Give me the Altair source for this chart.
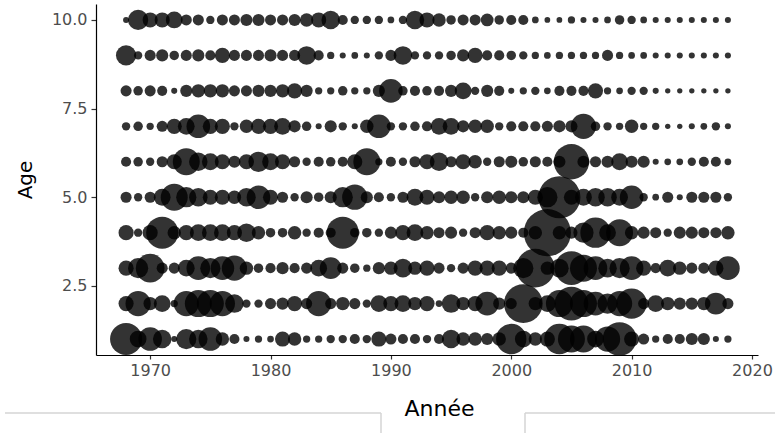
import altair as alt
import pandas as pd

years = list(range(1968, 2019))

# Abundance index per age class (one value per year, 1968..2018)
age10 = [9,100,56,56,69,30,30,17,30,30,36,36,30,30,36,44,56,84,25,17,17,17,11,17,84,56,
         44,22,30,30,40,22,25,25,11,8,8,13,9,9,11,22,17,11,9,9,9,9,9,9,9]
age9 = [100,17,30,36,22,30,36,25,56,30,30,30,36,30,30,84,25,13,9,11,9,17,30,84,17,17,
        17,22,36,56,25,25,22,17,13,11,13,13,13,13,30,13,11,11,9,9,9,9,9,9,9]
age8 = [30,22,30,25,9,36,44,44,44,30,30,36,36,44,56,36,13,13,22,13,13,36,136,22,25,22,
        25,36,69,17,36,25,9,13,17,11,25,25,25,56,13,11,17,17,9,7,7,7,7,7,7]
age7 = [17,22,13,30,56,69,136,56,56,17,44,56,56,69,36,22,9,36,17,9,44,136,17,17,22,25,
        69,69,36,44,44,17,25,25,25,30,36,36,156,22,17,13,44,13,13,7,7,9,11,17,9]
age6 = [25,22,17,30,56,178,84,69,56,36,56,100,69,56,30,17,25,22,25,56,178,13,25,17,30,56,
        84,30,56,44,17,30,36,22,30,25,36,306,36,30,36,69,36,36,9,11,11,17,25,25,11]
age5 = [30,17,30,69,178,100,84,56,56,44,84,136,56,30,17,36,22,36,100,156,36,25,17,30,69,56,
        36,44,44,17,36,44,36,36,56,100,434,56,69,84,84,69,136,17,11,30,9,30,30,30,17]
age4 = [56,17,56,251,44,56,69,69,69,56,84,44,22,22,44,17,25,25,251,22,22,17,36,56,69,44,
        30,36,17,30,56,44,36,25,44,544,44,36,100,225,69,178,44,36,30,17,36,36,30,30,44]
age3 = [56,100,201,30,30,69,136,100,136,156,44,22,25,36,25,30,69,117,30,22,13,36,44,84,44,56,
        30,17,30,56,56,56,30,100,367,44,84,278,178,136,84,100,136,56,25,69,44,30,30,56,136]
age2 = [56,156,44,69,13,156,178,178,156,84,17,17,30,36,56,30,156,30,44,30,17,69,56,69,44,56,
        11,84,44,56,136,36,30,367,44,69,178,278,178,136,100,156,225,30,69,44,36,36,44,117,30]
age1 = [251,69,136,84,9,100,84,136,44,25,9,13,11,56,44,13,13,17,17,25,17,56,30,25,25,17,
        25,84,44,44,36,44,225,69,44,56,225,178,178,69,156,278,56,30,13,25,25,36,36,9,13]

ages = {1: age1, 2: age2, 3: age3, 4: age4, 5: age5,
        6: age6, 7: age7, 8: age8, 9: age9, 10: age10}

x_ticks = [1970, 1980, 1990, 2000, 2010, 2020]
y_ticks = [2.5, 5.0, 7.5, 10.0]

rows = []
for a, vals in ages.items():
    for yr, v in zip(years, vals):
        rows.append({"Annee": yr, "Age": a, "Abondance": v})
df = pd.DataFrame(rows)

FONT = "DejaVu Sans"

points = alt.Chart(df).mark_circle(color="black", opacity=0.8, stroke=None).encode(
    x=alt.X("Annee:Q",
            scale=alt.Scale(domain=[1965.5, 2020.5], nice=False, zero=False),
            axis=alt.Axis(values=x_ticks, format="d", title="Année",
                          grid=False, tickSize=4, labelPadding=3,
                          titlePadding=20, titleFontSize=22,
                          titleX=343, titleAlign="center")),
    y=alt.Y("Age:Q",
            scale=alt.Scale(domain=[0.55, 10.45], nice=False, zero=False),
            axis=alt.Axis(values=y_ticks, format=".1f", title="Age",
                          grid=False, tickSize=5, labelPadding=4,
                          titlePadding=16, titleFontSize=20)),
    size=alt.Size("Abondance:Q",
                  scale=alt.Scale(domain=[0, 550], range=[0, 2250], zero=True),
                  legend=None),
)

deco = pd.DataFrame({"k": [0]})
line_color = "#d4d4d4"
h1 = alt.Chart(deco).mark_rule(color=line_color, strokeWidth=1.5).encode(
    x=alt.value(-91), x2=alt.value(285), y=alt.value(409))
v1 = alt.Chart(deco).mark_rule(color=line_color, strokeWidth=1.5).encode(
    x=alt.value(285), y=alt.value(409), y2=alt.value(430))
h2 = alt.Chart(deco).mark_rule(color=line_color, strokeWidth=1.5).encode(
    x=alt.value(429), x2=alt.value(679), y=alt.value(409))
v2 = alt.Chart(deco).mark_rule(color=line_color, strokeWidth=1.5).encode(
    x=alt.value(429), y=alt.value(409), y2=alt.value(430))

chart = alt.layer(points, h1, v1, h2, v2).properties(
    width=662, height=351,
    padding={"left": 96, "top": 4, "right": 17, "bottom": 78},
    autosize=alt.AutoSizeParams(type="none"),
).configure_view(stroke=None).configure_axis(
    labelFont=FONT, titleFont=FONT, labelFontSize=16,
    labelColor="#4d4d4d", titleColor="black", titleFontWeight="normal",
    domainColor="black", domainWidth=1.2, tickColor="#333333", tickWidth=1.2,
)

chart.save("out.html", embed_options={"renderer": "svg", "actions": False})
